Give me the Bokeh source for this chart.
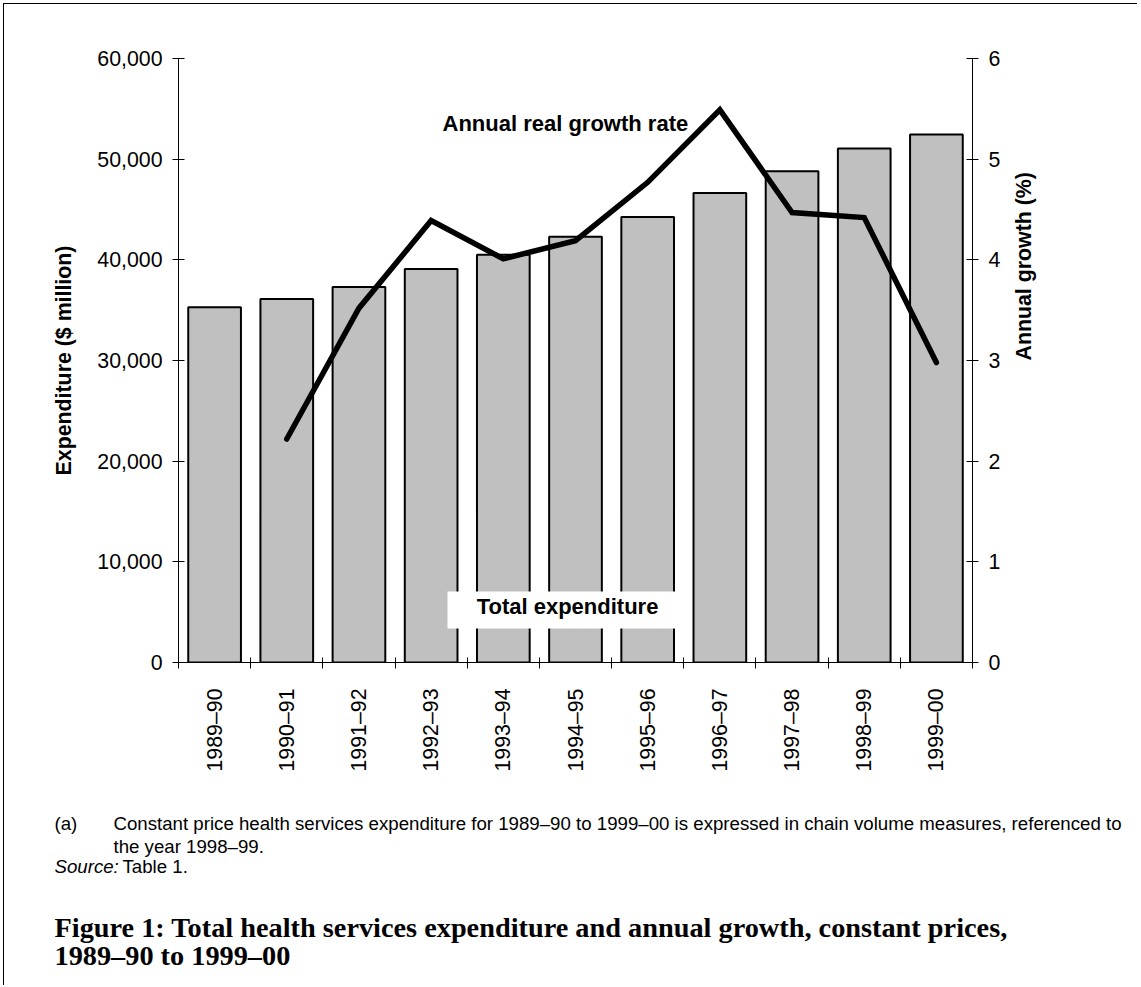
import math
from bokeh.plotting import figure
from bokeh.models import (Range1d, LinearAxis, FixedTicker, NumeralTickFormatter,
                          Label, BoxAnnotation)
from bokeh.core.properties import value
from bokeh.embed import file_html
from bokeh.resources import INLINE

# ---------------- data ----------------
categories = ["1989–90", "1990–91", "1991–92", "1992–93", "1993–94", "1994–95",
              "1995–96", "1996–97", "1997–98", "1998–99", "1999–00"]
expenditure = [35300, 36100, 37300, 39100, 40500, 42300, 44250, 46650, 48800, 51050, 52450]
growth = [None, 2.22, 3.52, 4.39, 4.01, 4.19, 4.77, 5.49, 4.47, 4.42, 2.98]
exp_ticks = [0, 10000, 20000, 30000, 40000, 50000, 60000]
growth_ticks = [0, 1, 2, 3, 4, 5, 6]

# ---------------- layout constants (page pixels) ----------------
CX0, CY0 = 4, 4                      # canvas origin on the page
FRAME_L, FRAME_T, FRAME_W, FRAME_H = 178, 58, 794, 604
W = 1133
SPLIT = 790                          # page y where the notes panel starts
H1 = SPLIT - CY0
H2 = 195
FONT = "Liberation Sans"
FS = "21.33px"

n = len(categories)
centers = [i + 0.5 for i in range(n)]
bounds = [float(i) for i in range(n + 1)]

p = figure(width=W, height=H1, frame_width=FRAME_W, frame_height=FRAME_H,
           x_range=Range1d(0, n), y_range=Range1d(0, 60000),
           output_backend="svg", toolbar_location=None,
           min_border_left=FRAME_L - CX0, min_border_top=FRAME_T - CY0,
           min_border_right=W - (FRAME_L - CX0) - FRAME_W,
           min_border_bottom=H1 - (FRAME_T - CY0) - FRAME_H)
p.outline_line_color = None
p.xgrid.visible = False
p.ygrid.visible = False
p.background_fill_color = "white"
p.border_fill_color = "white"
p.styles = {"margin-left": "3px", "margin-top": "3px",
            "border-left": "1px solid black", "border-top": "1px solid black"}

p.extra_y_ranges = {"growth": Range1d(0, 6)}


def dx(px):
    return (px - FRAME_L) / FRAME_W * n


def dy(py):
    return (FRAME_T + FRAME_H - py) / FRAME_H * 60000


# bars
p.vbar(x=centers, top=expenditure, bottom=0, width=0.73,
       fill_color="#c0c0c0", line_color="black", line_width=2)

# growth line
gx = [c for c, g in zip(centers, growth) if g is not None]
gy = [g for g in growth if g is not None]
p.line(gx, gy, y_range_name="growth", line_color="black", line_width=5.5,
       line_join="miter", line_cap="round")

# x axis
xa = p.xaxis[0]
xa.ticker = FixedTicker(ticks=centers, minor_ticks=bounds)
xa.major_label_overrides = {c: lab for c, lab in zip(centers, categories)}
xa.major_tick_line_color = None
xa.major_tick_in = 0
xa.major_tick_out = 0
xa.minor_tick_in = 5
xa.minor_tick_out = 6
xa.minor_tick_line_color = "black"
xa.major_label_orientation = math.pi / 2
xa.major_label_standoff = 20
xa.major_label_text_font = FONT
xa.major_label_text_font_size = FS
xa.major_label_text_color = "black"
xa.axis_line_color = "black"

# left y axis
ya = p.yaxis[0]
ya.ticker = FixedTicker(ticks=exp_ticks)
ya.formatter = NumeralTickFormatter(format="0,0")
ya.major_tick_in = 6
ya.major_tick_out = 6
ya.minor_tick_line_color = None
ya.major_label_standoff = 10
ya.major_label_text_font = FONT
ya.major_label_text_font_size = FS
ya.major_label_text_color = "black"
ya.axis_label = "Expenditure ($ million)"
ya.axis_label_text_font = FONT
ya.axis_label_text_font_size = FS
ya.axis_label_text_font_style = "bold"
ya.axis_label_text_color = "black"
ya.axis_label_standoff = 18
ya.axis_line_color = "black"

# right y axis
ra = LinearAxis(y_range_name="growth", ticker=FixedTicker(ticks=growth_ticks))
ra.major_tick_in = 6
ra.major_tick_out = 6
ra.minor_tick_line_color = None
ra.major_label_standoff = 10
ra.major_label_text_font = FONT
ra.major_label_text_font_size = FS
ra.major_label_text_color = "black"
ra.axis_label = "Annual growth (%)"
ra.axis_label_orientation = math.pi / 2
ra.axis_label_text_font = FONT
ra.axis_label_text_font_size = FS
ra.axis_label_text_font_style = "bold"
ra.axis_label_text_color = "black"
ra.axis_label_standoff = 21
ra.axis_line_color = "black"
p.add_layout(ra, "right")

# in-plot annotations
p.add_layout(Label(x=dx(442), y=dy(123), text="Annual real growth rate",
                   text_font=FONT, text_font_size="22px", text_font_style="bold",
                   text_baseline="middle", text_align="left", text_color="black"))
p.add_layout(BoxAnnotation(left=dx(447), right=dx(689), bottom=dy(628), top=dy(591),
                           fill_color="white", fill_alpha=1.0, line_color=None))
p.add_layout(Label(x=dx(567), y=dy(606), text="Total expenditure",
                   text_font=FONT, text_font_size="22px", text_font_style="bold",
                   text_baseline="middle", text_align="center", text_color="black"))

# ---------------- notes panel (separate root) ----------------
p2 = figure(width=W, height=H2, x_range=Range1d(0, W), y_range=Range1d(H2, 0),
            output_backend="svg", toolbar_location=None,
            x_axis_type=None, y_axis_type=None,
            min_border_left=0, min_border_right=0, min_border_top=0, min_border_bottom=0)
p2.outline_line_color = None
p2.grid.visible = False
p2.background_fill_color = "white"
p2.border_fill_color = "white"
p2.styles = {"margin-left": "3px", "border-left": "1px solid black"}


def nx(px):
    return px - CX0


def ny(py):
    return py - SPLIT


CAP = "18.67px"
note_x = [nx(54), nx(113), nx(113), nx(122)]
note_y = [ny(823), ny(823), ny(846), ny(866)]
note_t = ["(a)",
          "Constant price health services expenditure for 1989–90 to 1999–00 is expressed in chain volume measures, referenced to",
          "the year 1998–99.",
          "Table 1."]
p2.text(x=note_x, y=note_y, text=note_t, text_font=value(FONT), text_font_size=value(CAP),
        text_baseline="middle", text_align="left", text_color="black")
p2.text(x=[nx(54)], y=[ny(866)], text=["Source:"], text_font=value(FONT),
        text_font_size=value(CAP), text_font_style="italic",
        text_baseline="middle", text_align="left", text_color="black")
p2.text(x=[nx(54), nx(54)], y=[ny(927), ny(955)],
        text=["Figure 1: Total health services expenditure and annual growth, constant prices,",
              "1989–90 to 1999–00"],
        text_font=value("Liberation Serif"), text_font_size=value("28.3px"),
        text_font_style="bold", text_baseline="middle", text_align="left", text_color="black")

open("out.html", "w").write(file_html([p, p2], INLINE))
